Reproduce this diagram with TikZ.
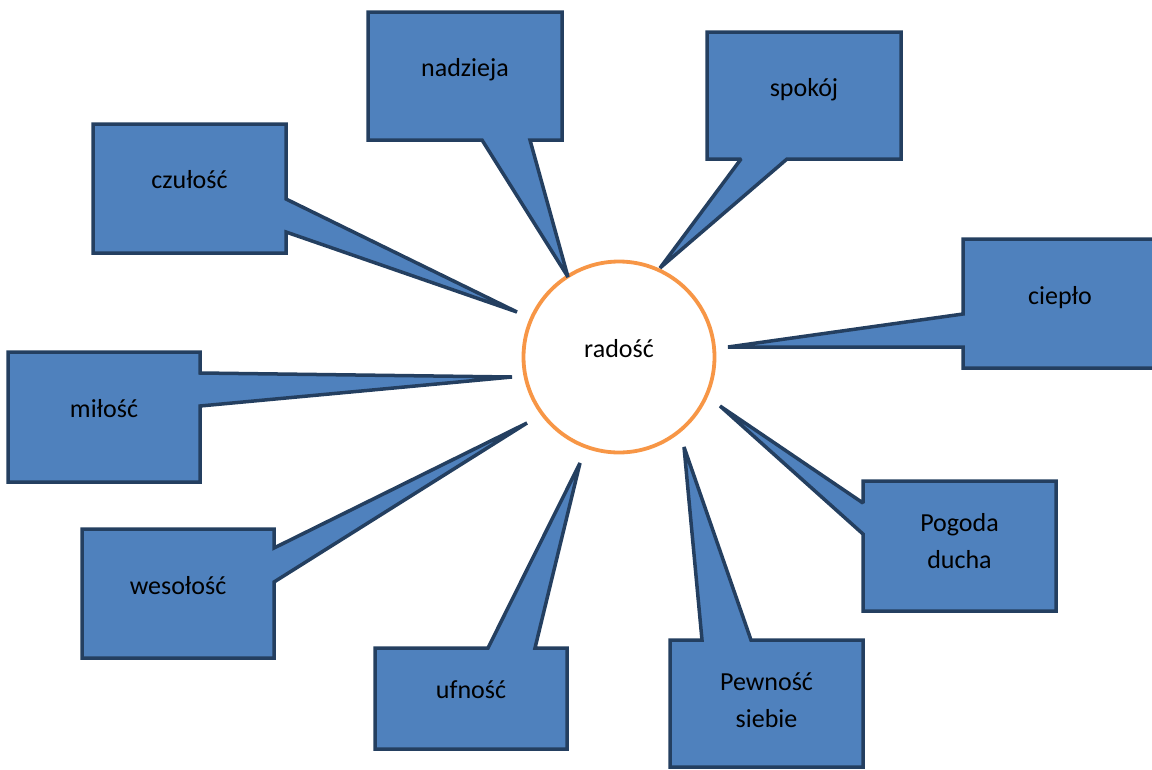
\documentclass[tikz,border=0pt]{standalone}
\usepackage{fontspec}
\setmainfont{Carlito}
\definecolor{boxfill}{HTML}{4F81BD}
\definecolor{boxline}{HTML}{243F60}
\definecolor{ringline}{HTML}{F79646}
\tikzset{
  callout/.style={fill=boxfill, draw=boxline, line width=3.5pt, line join=miter, miter limit=2},
  hub/.style={circle, draw=ringline, fill=white, line width=3.8pt, minimum size=191pt,
    inner sep=0pt, font=\fontsize{26}{31}\selectfont, text height=9pt, text depth=9pt},
  lbl/.style={font=\fontsize{26}{36.5}\selectfont, align=center, inner sep=0pt, text=black, anchor=base},
}
\begin{document}
\begin{tikzpicture}[x=1pt,y=-1pt]
\useasboundingbox (0,0) rectangle (1152,769);

% central circle
\node[hub] (radosc) at (619,357) {radość};

% callout shapes
\draw[callout] (368,12) -- (562,12) -- (562,140) -- (530,140) -- (568,277) -- (482,140) -- (368,140) -- cycle;
\draw[callout] (707,32) -- (901,32) -- (901,159) -- (787,159) -- (660,268) -- (741,159) -- (707,159) -- cycle;
\draw[callout] (93,124) -- (286,124) -- (286,199) -- (517,312) -- (286,232) -- (286,253) -- (93,253) -- cycle;
\draw[callout] (963,239) -- (1157,239) -- (1157,368) -- (963,368) -- (963,347) -- (728,347) -- (963,314) -- cycle;
\draw[callout] (8,352) -- (200,352) -- (200,373) -- (512,377) -- (200,406) -- (200,482) -- (8,482) -- cycle;
\draw[callout] (863,481) -- (1056,481) -- (1056,611) -- (863,611) -- (863,534) -- (720,406) -- (863,503) -- cycle;
\draw[callout] (82,529) -- (274,529) -- (274,548) -- (527,423) -- (274,582) -- (274,658) -- (82,658) -- cycle;
\draw[callout] (375,648) -- (488,648) -- (580,463) -- (535,648) -- (567,648) -- (567,749) -- (375,749) -- cycle;
\draw[callout] (670,640) -- (702,640) -- (684,447) -- (751,640) -- (863,640) -- (863,767) -- (670,767) -- cycle;

% callout texts
\node[lbl] (nadzieja) at (465,76) {nadzieja};
\node[lbl] (spokoj) at (804,96) {spokój};
\node[lbl] (czulosc) at (189.5,188) {czułość};
\node[lbl] (cieplo) at (1060,304) {ciepło};
\node[lbl] (milosc) at (104,417) {miłość};
\node[lbl] (pogoda) at (959.5,568) {Pogoda\\ducha};
\node[lbl] (wesolosc) at (178,594) {wesołość};
\node[lbl] (ufnosc) at (471,698) {ufność};
\node[lbl] (pewnosc) at (766.5,727) {Pewność\\siebie};
\end{tikzpicture}
\end{document}
